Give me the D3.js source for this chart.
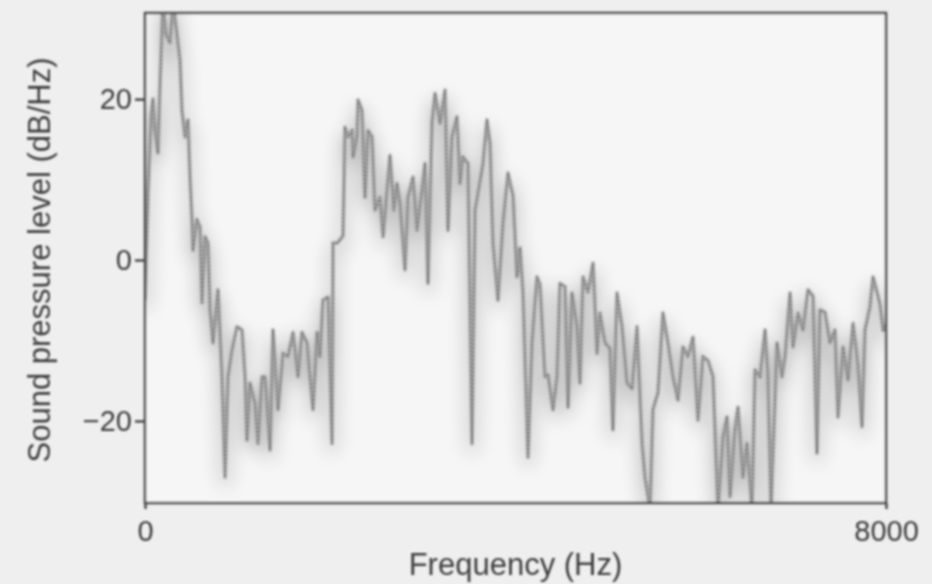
<!DOCTYPE html>
<html>
<head>
<meta charset="utf-8">
<script src="https://cdn.jsdelivr.net/npm/d3@7"></script>
<style>
  body { margin: 0; background: #efefef; }
  svg { display: block; }
</style>
</head>
<body>
<script>
// spectrum: frequency (Hz) and level (dB/Hz)
const freqHz = [
  0, 32, 65, 86, 108, 140, 162, 194, 227, 270, 302, 335, 378, 399, 432, 464, 486, 507, 518, 561,
  594, 615, 648, 680, 702, 734, 788, 831, 864, 896, 939, 993, 1047, 1080, 1101, 1134, 1187, 1220, 1263, 1296,
  1350, 1382, 1436, 1490, 1544, 1598, 1652, 1695, 1749, 1781, 1814, 1857, 1889, 1921, 1976, 2019, 2030, 2073, 2105, 2138,
  2159, 2192, 2235, 2246, 2289, 2300, 2343, 2375, 2408, 2451, 2483, 2537, 2570, 2613, 2645, 2687, 2721, 2753, 2807, 2839,
  2893, 2937, 2990, 3023, 3055, 3098, 3131, 3185, 3239, 3271, 3314, 3368, 3401, 3433, 3487, 3530, 3563, 3595, 3649, 3692,
  3725, 3757, 3811, 3865, 3919, 3973, 4016, 4049, 4081, 4135, 4178, 4232, 4264, 4318, 4351, 4405, 4448, 4480, 4534, 4567,
  4610, 4664, 4696, 4729, 4783, 4837, 4880, 4912, 4966, 5020, 5052, 5096, 5150, 5204, 5258, 5312, 5366, 5398, 5452, 5484,
  5538, 5592, 5646, 5700, 5754, 5808, 5862, 5916, 5970, 6024, 6078, 6132, 6186, 6240, 6283, 6316, 6370, 6402, 6456, 6499,
  6553, 6586, 6640, 6694, 6726, 6758, 6823, 6877, 6910, 6964, 6996, 7050, 7104, 7158, 7212, 7255, 7287, 7341, 7395, 7449,
  7482, 7536, 7590, 7644, 7697, 7741, 7773, 7827, 7860, 7903, 7935, 7968, 8000
];
const levelDb = [
  -5, 8, 18, 20, 16, 13.3, 22, 32, 28, 27, 32, 29, 24.8, 18.6, 15.3, 17.4, 10.3, 5, 1.2, 5,
  4.1, -5.3, 2.9, 2.1, -6.2, -10.3, -3.7, -14.5, -27, -14.5, -11.2, -8.3, -8.7, -14.5, -22.4, -15.3, -17.8, -22.8, -14.5, -14.5,
  -23.6, -8.7, -18.6, -11.6, -12, -9, -14.5, -9, -10.3, -14.5, -18.6, -9, -12, -5, -4.6, -22.8, 2.1, 2.1, 2.5, 3,
  16.5, 15.3, 16.1, 12.8, 15.3, 19.9, 18.6, 7.8, 16.1, 15.3, 6.2, 7.8, 2.9, 8.7, 13, 6.2, 9.5, 7, -1.2, 7.8,
  10.3, 3.7, 8.7, 12, -2.9, 17, 20.7, 17, 21.1, 3.7, 15.3, 17.8, 9.5, 12.8, 12, -22.8, 6.2, 8.3, 12, 17.4,
  14.5, 2.1, -5, 4.6, 10.8, 8, -2.1, 1.5, -4.1, -24.5, -10.3, -2.1, -3, -14.5, -14.3, -18.6, -14.5, -2.9, -3.3, -18.3,
  -4.1, -8.3, -15.3, -2.1, -4, -0.4, -11.6, -6.6, -10.3, -11, -21.1, -4.1, -8.3, -15.3, -16, -8.3, -22.8, -27, -31, -18.6,
  -16.5, -6.6, -10.3, -14.5, -17.4, -10.8, -12, -9.6, -19.9, -12, -12.5, -14.5, -31, -22, -19.5, -29.4, -21, -18.3, -27, -22.8,
  -31, -13.7, -14.5, -8.7, -14.5, -31, -10.3, -14.5, -12, -4.1, -10.8, -6.6, -8.7, -3.7, -4.5, -24, -6.2, -6.5, -10.3, -8.7,
  -19.5, -10.8, -14.9, -7.9, -13, -20.7, -8.7, -5.8, -2.1, -4, -5.5, -8.7, -8
];
const yTicks = [-20, 0, 20];
const xTicks = [0, 8000];

const spectrum = freqHz.map((f, i) => ({ f: f, db: levelDb[i] }));

const W = 932, H = 584;
const margin = { top: 13, right: 46, bottom: 81, left: 145 };
const w = W - margin.left - margin.right;
const h = H - margin.top - margin.bottom;

const x = d3.scaleLinear().domain([0, 8000]).range([0, w]);
const y = d3.scaleLinear().domain([-30.2, 30.7]).range([h, 0]);

const svg = d3.select("body").append("svg").attr("width", W).attr("height", H);

const defs = svg.append("defs");
defs.append("filter").attr("id", "soft")
  .append("feGaussianBlur").attr("stdDeviation", 0.8);
defs.append("filter").attr("id", "shadow")
  .attr("x", "-20%").attr("y", "-20%").attr("width", "140%").attr("height", "140%")
  .append("feGaussianBlur").attr("stdDeviation", 9);
defs.append("clipPath").attr("id", "plotclip")
  .append("rect").attr("width", w).attr("height", h);

const g = svg.append("g")
  .attr("transform", "translate(" + margin.left + "," + margin.top + ")")
  .attr("filter", "url(#soft)");

g.append("rect").attr("width", w).attr("height", h).attr("fill", "#f6f6f6");

const lineFunc = d3.line()
  .x(d => x(d.f))
  .y(d => y(d.db))
  .curve(d3.curveLinear);

const plot = g.append("g").attr("clip-path", "url(#plotclip)");

// blurry grey halo under the trace
plot.append("path")
  .attr("d", lineFunc(spectrum))
  .attr("transform", "translate(0,8)")
  .attr("fill", "none")
  .attr("stroke", "#000")
  .attr("stroke-opacity", 0.22)
  .attr("stroke-width", 8)
  .attr("filter", "url(#shadow)");

plot.append("path")
  .attr("d", lineFunc(spectrum))
  .attr("fill", "none")
  .attr("stroke", "#a6a6a6")
  .attr("stroke-width", 4)
  .attr("stroke-linejoin", "round");

plot.append("path")
  .attr("d", lineFunc(spectrum))
  .attr("fill", "none")
  .attr("stroke", "#4d4d4d")
  .attr("stroke-width", 1.4)
  .attr("stroke-dasharray", "1.5,2.5")
  .attr("stroke-opacity", 0.85);

// frame
g.append("rect")
  .attr("width", w).attr("height", h)
  .attr("fill", "none")
  .attr("stroke", "#4a4a4a")
  .attr("stroke-width", 2.5);

const font = "'Liberation Sans', Arial, Helvetica, sans-serif";

const yAxis = g.append("g")
  .call(d3.axisLeft(y).tickValues(yTicks).tickSize(10).tickPadding(3));
yAxis.select(".domain").remove();

const xAxis = g.append("g")
  .attr("transform", "translate(0," + h + ")")
  .call(d3.axisBottom(x).tickValues(xTicks).tickFormat(d3.format("d")).tickSize(6).tickPadding(11));
xAxis.select(".domain").remove();

g.selectAll(".tick line").attr("stroke", "#4a4a4a").attr("stroke-width", 2.5);
g.selectAll(".tick text")
  .attr("font-family", font)
  .attr("font-size", "29px")
  .attr("fill", "#3c3c3c");

g.append("text")
  .attr("x", w / 2)
  .attr("y", h + 72)
  .attr("text-anchor", "middle")
  .attr("font-family", font)
  .attr("font-size", "31px")
  .attr("fill", "#3c3c3c")
  .text("Frequency (Hz)");

g.append("text")
  .attr("transform", "translate(" + (-95) + "," + (h / 2 + 2) + ") rotate(-90)")
  .attr("text-anchor", "middle")
  .attr("font-family", font)
  .attr("font-size", "31px")
  .attr("fill", "#3c3c3c")
  .text("Sound pressure level (dB/Hz)");
</script>
</body>
</html>
